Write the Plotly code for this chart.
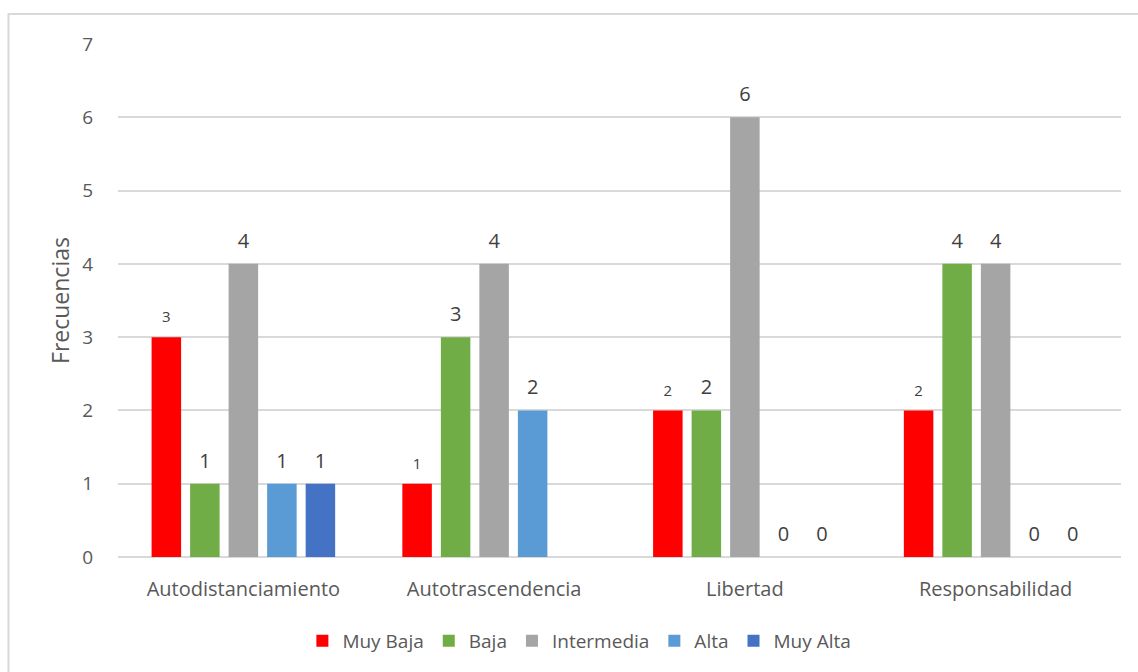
import plotly.graph_objects as go

categories = ["Autodistanciamiento", "Autotrascendencia", "Libertad", "Responsabilidad"]
series_names = ["Muy Baja", "Baja", "Intermedia", "Alta", "Muy Alta"]
muy_baja = [3, 1, 2, 2]
baja = [1, 3, 2, 4]
intermedia = [4, 4, 6, 4]
alta = [1, 2, 0, 0]
muy_alta = [1, None, 0, 0]
colors = ["#FF0000", "#70AD47", "#A5A5A5", "#5B9BD5", "#4472C4"]
label_sizes = [15, 20, 20, 20, 20]
y_ticks = [0, 1, 2, 3, 4, 5, 6, 7]

FONT = "'Open Sans', Lato, sans-serif"
AXIS_GREY = "#595959"
GRID = "#D9D9D9"
GAP = 0.232

fig = go.Figure()
all_values = [muy_baja, baja, intermedia, alta, muy_alta]

for name, vals, col in zip(series_names, all_values, colors):
    fig.add_trace(go.Bar(
        name=name, x=categories, y=vals, marker_color=col,
        marker_line_width=0, offsetgroup=name, hoverinfo="x+y+name",
    ))

# value labels sitting above each bar, grouped the same way as the bars
for name, vals, size in zip(series_names, all_values, label_sizes):
    fig.add_trace(go.Scatter(
        x=categories, y=vals, mode="markers+text", offsetgroup=name,
        text=[("" if v is None else str(v)) for v in vals],
        textposition="top center",
        textfont=dict(family=FONT, size=size, color="#404040"),
        marker=dict(size=16, opacity=0),
        showlegend=False, hoverinfo="skip", cliponaxis=False,
    ))

fig.update_layout(
    width=1138, height=672,
    margin=dict(l=118, r=17, t=44, b=115),
    paper_bgcolor="white", plot_bgcolor="white",
    barmode="group", bargap=GAP, bargroupgap=0.234,
    scattermode="group", scattergap=GAP,
    font=dict(family=FONT, size=18, color=AXIS_GREY),
    legend=dict(
        orientation="h", x=0.46, xanchor="center", y=-0.1637, yanchor="middle",
        font=dict(family=FONT, size=19, color=AXIS_GREY),
        itemwidth=30, tracegroupgap=0,
    ),
    showlegend=True,
)

fig.update_xaxes(
    showgrid=False, showline=False, zeroline=False,
    tickfont=dict(family=FONT, size=20, color=AXIS_GREY),
    ticklabelstandoff=18,
)
fig.update_yaxes(
    range=[0, 7], tickvals=y_ticks, showgrid=True, gridcolor=GRID, gridwidth=1.5,
    zeroline=True, zerolinecolor=GRID, zerolinewidth=1.5, showline=False,
    tickfont=dict(family=FONT, size=19, color=AXIS_GREY),
    ticklabelstandoff=24,
    title=dict(text="Frecuencias", font=dict(family=FONT, size=23, color=AXIS_GREY), standoff=6),
)

# light frame around the chart
fig.add_shape(
    type="rect", xref="paper", yref="paper",
    x0=-0.1092, x1=1.03, y0=-0.3, y1=1.0585,
    line=dict(color=GRID, width=2), fillcolor="rgba(0,0,0,0)", layer="below",
)

fig.write_html("out.html")
